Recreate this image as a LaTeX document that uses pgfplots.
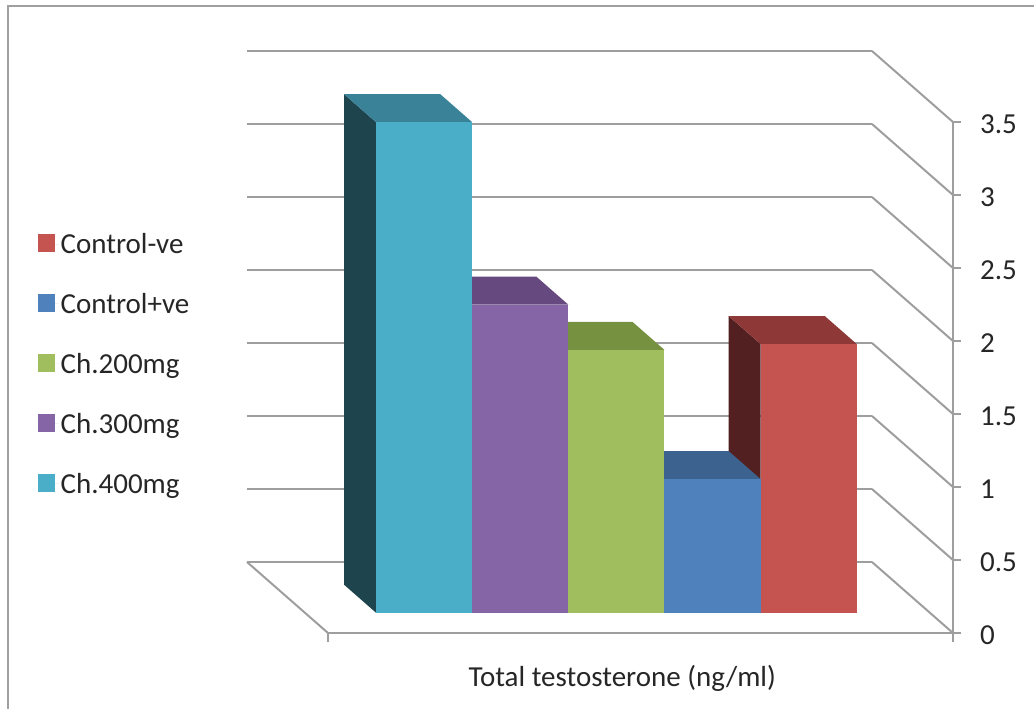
\documentclass[border=0pt]{standalone}
\usepackage{fontspec}
\setmainfont{Carlito}
\usepackage{pgfplots}
\pgfplotsset{compat=1.18}

\definecolor{gridgray}{HTML}{9E9E9E}
\definecolor{framegray}{HTML}{A0A0A0}
\definecolor{inktext}{HTML}{262626}
\definecolor{tealF}{HTML}{4BAEC9}\definecolor{tealT}{HTML}{398298}\definecolor{tealS}{HTML}{1E444E}
\definecolor{purpF}{HTML}{8565A5}\definecolor{purpT}{HTML}{66497F}\definecolor{purpS}{HTML}{3F2D52}
\definecolor{greenF}{HTML}{A0BE5E}\definecolor{greenT}{HTML}{76913F}\definecolor{greenS}{HTML}{4D5E2C}
\definecolor{blueF}{HTML}{4F81BD}\definecolor{blueT}{HTML}{3C6290}\definecolor{blueS}{HTML}{27415F}
\definecolor{redF}{HTML}{C5534F}\definecolor{redT}{HTML}{8E3837}\definecolor{redS}{HTML}{522020}

% One column: left side, top and front faces, depth from y=0.286 to y=0.68.
% Arguments: left x, right x, value, base colour name, legend text.
\newcommand{\columnbar}[5]{%
  \addplot3[fill=#4S, draw=none, forget plot] coordinates
    {(#1,0.286,0) (#1,0.68,0) (#1,0.68,#3) (#1,0.286,#3)};
  \addplot3[fill=#4T, draw=none, forget plot] coordinates
    {(#1,0.286,#3) (#2,0.286,#3) (#2,0.68,#3) (#1,0.68,#3)};
  \addplot3[fill=#4F, draw=none] coordinates
    {(#1,0.286,0) (#2,0.286,0) (#2,0.286,#3) (#1,0.286,#3)};
  \addlegendentry{#5}%
}
% Gridline at one value: along the back wall, then forward along the right wall.
\newcommand{\wallgrid}[1]{%
  \addplot3[gridgray, line width=2.6pt, forget plot] coordinates
    {(0,1,#1) (6.5,1,#1)};
  \addplot3[gridgray, line width=2pt, forget plot] coordinates
    {(6.5,1,#1) (6.5,0,#1)};
  \addplot3[gridgray, line width=1.8pt, forget plot] coordinates
    {(6.5,0,#1) (6.58,0,#1)};
}

\begin{document}
\begin{tikzpicture}[x=1pt,y=1pt]
\useasboundingbox (0,0) rectangle (1034,709);
\draw[framegray, line width=2pt] (8,0) -- (8,703) -- (1034,703);
\begin{axis}[
  at={(328pt,76pt)}, anchor=origin,
  x={(96.15pt,0pt)}, y={(-81pt,71pt)}, z={(0pt,146pt)},
  xmin=0, xmax=6.5, ymin=0, ymax=1, zmin=0, zmax=3.5,
  hide axis, clip=false,
  legend style={at={(axis cs:-3.02,0,2.752)}, anchor=north west, draw=none, fill=none,
    font=\fontsize{29}{30}\selectfont\color{inktext}, row sep=34.3pt,
    inner sep=0pt, outer sep=0pt},
  legend cell align=left,
  legend image code/.code={\fill[#1] (0pt,-8pt) rectangle (17pt,10pt); \path (0pt,0pt) -- (21pt,0pt);},
]
\wallgrid{0}\wallgrid{0.5}\wallgrid{1}\wallgrid{1.5}
\wallgrid{2}\wallgrid{2.5}\wallgrid{3}\wallgrid{3.5}
% floor edges and the value axis with its bottom ticks
\addplot3[gridgray, line width=2pt, forget plot] coordinates {(0,1,0) (0,0,0)};
\addplot3[gridgray, line width=2.8pt, forget plot] coordinates {(0,0,0) (6.5,0,0)};
\addplot3[gridgray, line width=2.8pt, forget plot] coordinates {(6.5,0,-0.06) (6.5,0,3.5)};
\addplot3[gridgray, line width=1.8pt, forget plot] coordinates {(0,0,0) (0,0,-0.06)};

\columnbar{4.74}{5.74}{1.84}{red}{Control-ve}
\columnbar{3.74}{4.74}{0.915}{blue}{Control+ve}
\columnbar{2.74}{3.74}{1.80}{green}{Ch.200mg}
\columnbar{1.74}{2.74}{2.11}{purp}{Ch.300mg}
\columnbar{0.74}{1.74}{3.36}{teal}{Ch.400mg}

\foreach \v in {0,0.5,1,1.5,2,2.5,3,3.5}{
  \edef\temp{\noexpand\node[anchor=west, inner sep=0pt, text=inktext, font=\noexpand\fontsize{29}{30}\noexpand\selectfont]
    at (axis cs:6.78,0,\v-0.015) {\v};}
  \temp
}
\node[text=inktext, font=\fontsize{29}{30}\selectfont, inner sep=0pt]
  at (axis cs:3.06,0,-0.312) {Total testosterone (ng/ml)};
\end{axis}
\end{tikzpicture}
\end{document}
